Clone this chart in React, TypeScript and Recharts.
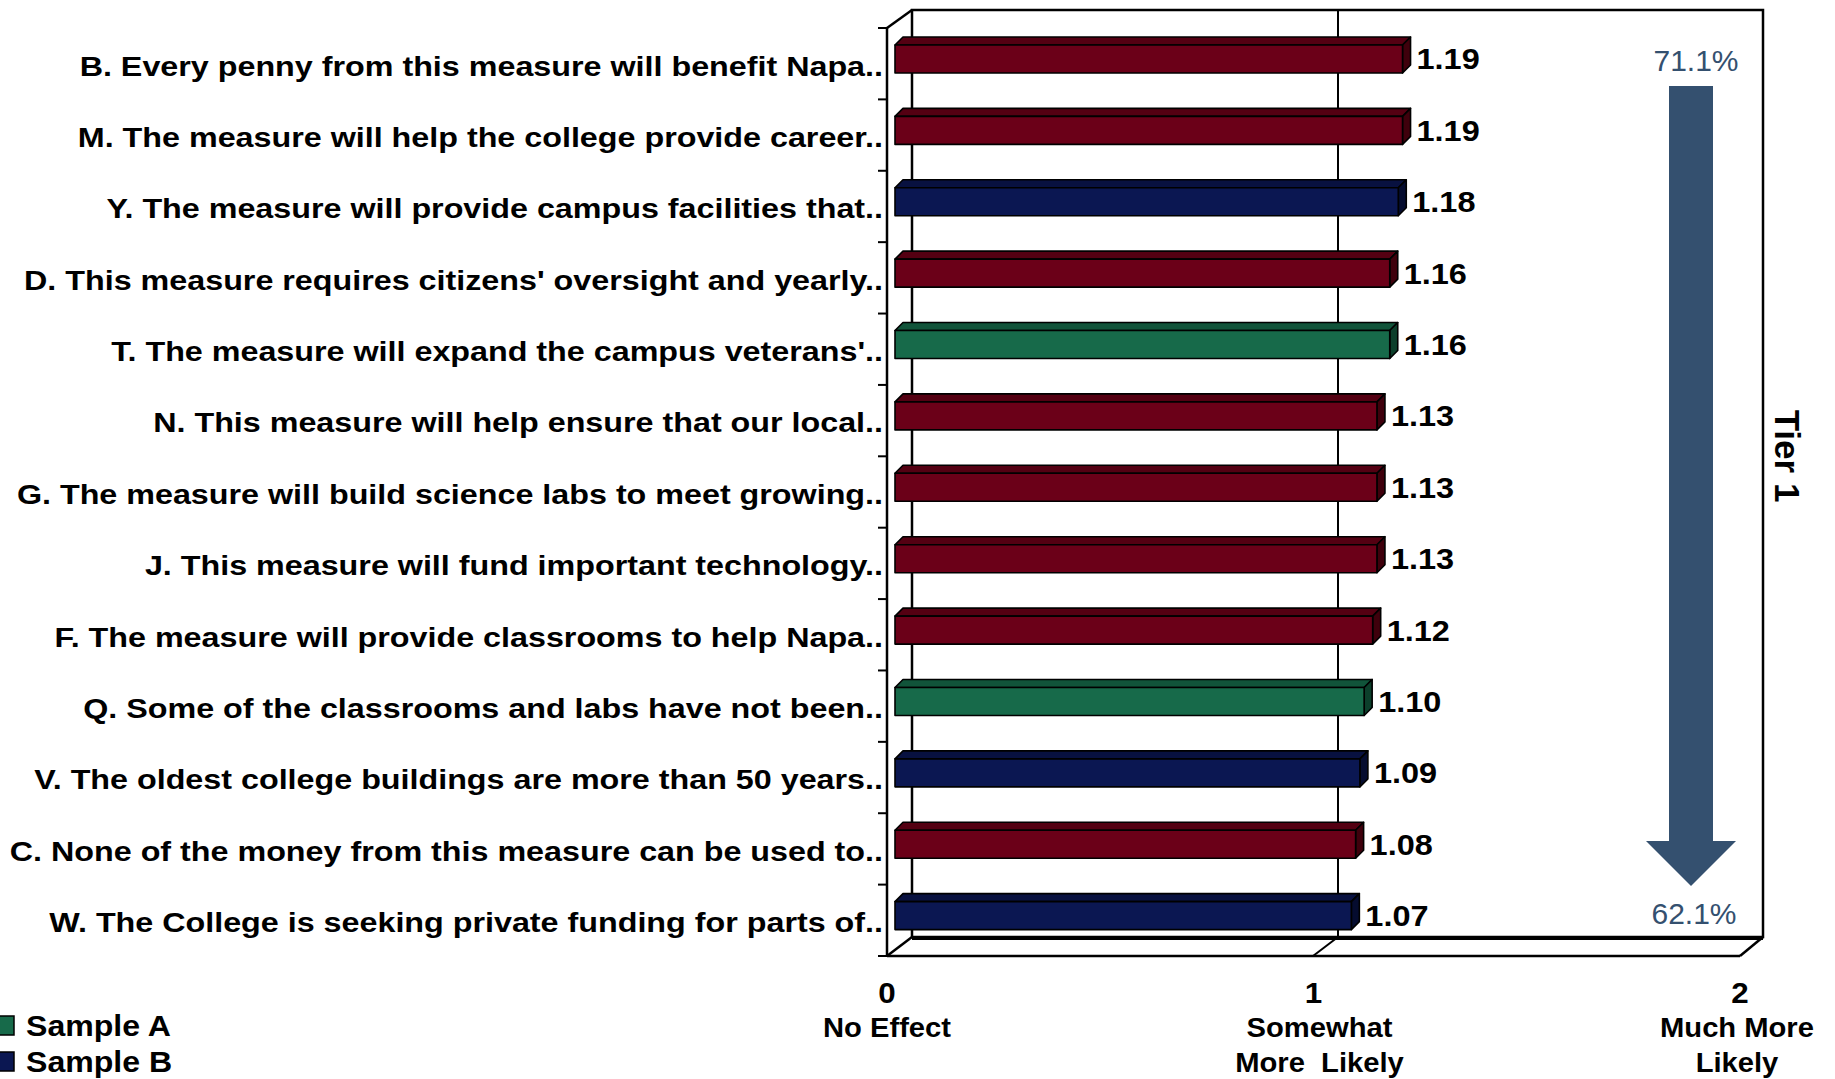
import { BarChart, Bar, XAxis, YAxis, LabelList } from "recharts";

const categories = [
  "B. Every penny from this measure will benefit Napa..",
  "M. The measure will help the college provide career..",
  "Y. The measure will provide campus facilities that..",
  "D. This measure requires citizens' oversight and yearly..",
  "T. The measure will expand the campus veterans'..",
  "N. This measure will help ensure that our local..",
  "G. The measure will build science labs to meet growing..",
  "J. This measure will fund important technology..",
  "F. The measure will provide classrooms to help Napa..",
  "Q. Some of the classrooms and labs have not been..",
  "V. The oldest college buildings are more than 50 years..",
  "C. None of the money from this measure can be used to..",
  "W. The College is seeking private funding for parts of..",
];
const values = [1.19, 1.19, 1.18, 1.16, 1.16, 1.13, 1.13, 1.13, 1.12, 1.1, 1.09, 1.08, 1.07];
const samples = ["All", "All", "B", "All", "A", "All", "All", "All", "All", "A", "B", "All", "B"];

const xTicks = [0, 1, 2];
const xTickText = [["No Effect"], ["Somewhat", "More  Likely"], ["Much More", "Likely"]];
const legendNames = ["Sample A", "Sample B"];
const legendKeys = ["A", "B"];
const tierLabel = "Tier 1";
const tierTop = "71.1%";
const tierBottom = "62.1%";

const palette: Record<string, { face: string; top: string; side: string }> = {
  All: { face: "#6B0018", top: "#540012", side: "#3F000C" },
  A: { face: "#176A4A", top: "#11543A", side: "#0C3F2B" },
  B: { face: "#0B1752", top: "#081140", side: "#050C2F" },
};

const data = categories.map((name, i) => ({ name, value: values[i], sample: samples[i] }));

const FONT = "'Liberation Sans', Arial, sans-serif";
const W = 1835;
const H = 1079;
const PLOT_BOTTOM = 956;
const DEPTH = 8;
const LIFT = 5;
const ARROW = "#34506F";

function Bar3D(props: any) {
  const { x, y, width, height, payload } = props;
  const c = palette[payload.sample];
  const fy = y - LIFT;
  const d = DEPTH;
  return (
    <g stroke="#000" strokeWidth={1.6} strokeLinejoin="round">
      <polygon
        points={`${x},${fy} ${x + d},${fy - d} ${x + width + d},${fy - d} ${x + width},${fy}`}
        fill={c.top}
      />
      <polygon
        points={`${x + width},${fy} ${x + width + d},${fy - d} ${x + width + d},${fy + height - d} ${x + width},${fy + height}`}
        fill={c.side}
      />
      <rect x={x} y={fy} width={width} height={height} fill={c.face} />
    </g>
  );
}

function ValueLabel(props: any) {
  const { x, y, width, height, value } = props;
  const tx = x + width + DEPTH + 6;
  const ty = y - LIFT + height / 2;
  return (
    <text
      transform={`translate(${tx},${ty}) scale(1.12,1)`}
      dy="0.36em"
      fontFamily={FONT}
      fontWeight="bold"
      fontSize={29}
      fill="#000"
    >
      {Number(value).toFixed(2)}
    </text>
  );
}

function CategoryTick(props: any) {
  const { y, payload } = props;
  return (
    <text
      transform={`translate(883,${y}) scale(1.17,1)`}
      dy="0.43em"
      textAnchor="end"
      fontFamily={FONT}
      fontWeight="bold"
      fontSize={27.6}
      fill="#000"
    >
      {payload.value}
    </text>
  );
}

function ValueTick(props: any) {
  const { x, payload, index } = props;
  const lines = xTickText[index] ?? [];
  const cx = x - 8;
  const shift = index === 1 ? 6 : index === 2 ? -3 : 0;
  return (
    <g fontFamily={FONT} fontWeight="bold" fill="#000" textAnchor="middle">
      <text transform={`translate(${cx},1003) scale(1.08,1)`} fontSize={29}>
        {payload.value}
      </text>
      {lines.map((l: string, i: number) => (
        <text
          key={i}
          transform={`translate(${cx + shift},${1037 + i * 35}) scale(1.08,1)`}
          fontSize={27}
          style={{ whiteSpace: "pre" }}
        >
          {l}
        </text>
      ))}
    </g>
  );
}

function Frame() {
  // 3D box behind the bars: front edge at the category axis, back wall offset up-right
  const fx0 = 887, fx1 = 1740, fy0 = 28, fy1 = PLOT_BOTTOM;
  const bx0 = 912, bx1 = 1763, by0 = 10, by1 = 937;
  const gx = 1338, gfx = 1313;
  const band = (fy1 - fy0) / categories.length;
  return (
    <svg width={W} height={H} style={{ position: "absolute", left: 0, top: 0 }}>
      <rect x={bx0} y={by0} width={bx1 - bx0} height={by1 - by0} fill="#fff" stroke="#000" strokeWidth={2.5} />
      <line x1={gx} y1={by0} x2={gx} y2={by1} stroke="#000" strokeWidth={2} />
      <g stroke="#000" strokeWidth={2.5} fill="none">
        <line x1={fx0} y1={fy0} x2={fx0} y2={fy1} />
        <line x1={fx0} y1={fy0} x2={bx0} y2={by0} />
        <line x1={fx0} y1={fy1} x2={fx1} y2={fy1} />
        <line x1={fx0} y1={fy1} x2={bx0} y2={by1} />
        <line x1={fx1} y1={fy1} x2={bx1} y2={by1} />
        <line x1={bx0} y1={by1 + 1.5} x2={bx1} y2={by1 + 1.5} strokeWidth={3} />
        <line x1={gfx} y1={fy1} x2={gx} y2={by1} strokeWidth={2} />
        {categories.map((_, i) => (
          <line key={i} x1={fx0 - 9} y1={fy0 + i * band} x2={fx0} y2={fy0 + i * band} strokeWidth={2} />
        ))}
        <line x1={fx0 - 9} y1={fy1} x2={fx0} y2={fy1} strokeWidth={2} />
      </g>
      <polygon
        points="1669,86 1713,86 1713,841 1736,841 1691,886 1646,841 1669,841"
        fill={ARROW}
      />
      <text x={1696} y={71} textAnchor="middle" fontFamily={FONT} fontSize={30} fill={ARROW}>
        {tierTop}
      </text>
      <text x={1694} y={924} textAnchor="middle" fontFamily={FONT} fontSize={30} fill={ARROW}>
        {tierBottom}
      </text>
      <text
        x={1788}
        y={456}
        textAnchor="middle"
        dy="0.36em"
        transform="rotate(90 1788 456)"
        fontFamily={FONT}
        fontWeight="bold"
        fontSize={35}
        fill="#000"
      >
        {tierLabel}
      </text>
      {legendNames.map((n, i) => (
        <g key={n}>
          <rect x={-5} y={1016 + i * 36} width={19} height={19} fill={palette[legendKeys[i]].face} stroke="#000" strokeWidth={1.5} />
          <text transform={`translate(26,${1036 + i * 36}) scale(1.07,1)`} fontFamily={FONT} fontWeight="bold" fontSize={30} fill="#000">
            {n}
          </text>
        </g>
      ))}
    </svg>
  );
}

export default function App() {
  return (
    <div style={{ position: "absolute", left: 0, top: 0, width: W, height: H, background: "#fff" }}>
      <Frame />
      <div style={{ position: "absolute", left: 0, top: 0 }}>
        <BarChart
          width={W}
          height={H}
          data={data}
          layout="vertical"
          margin={{ top: 28, right: W - 1748, bottom: 0, left: 0 }}
          barSize={28}
        >
          <XAxis
            type="number"
            domain={[0, 2]}
            ticks={xTicks}
            axisLine={false}
            tickLine={false}
            tick={<ValueTick />}
            height={H - PLOT_BOTTOM}
            interval={0}
          />
          <YAxis
            type="category"
            dataKey="name"
            width={895}
            axisLine={false}
            tickLine={false}
            tick={<CategoryTick />}
            interval={0}
          />
          <Bar dataKey="value" shape={<Bar3D />} isAnimationActive={false}>
            <LabelList dataKey="value" content={<ValueLabel />} />
          </Bar>
        </BarChart>
      </div>
    </div>
  );
}
